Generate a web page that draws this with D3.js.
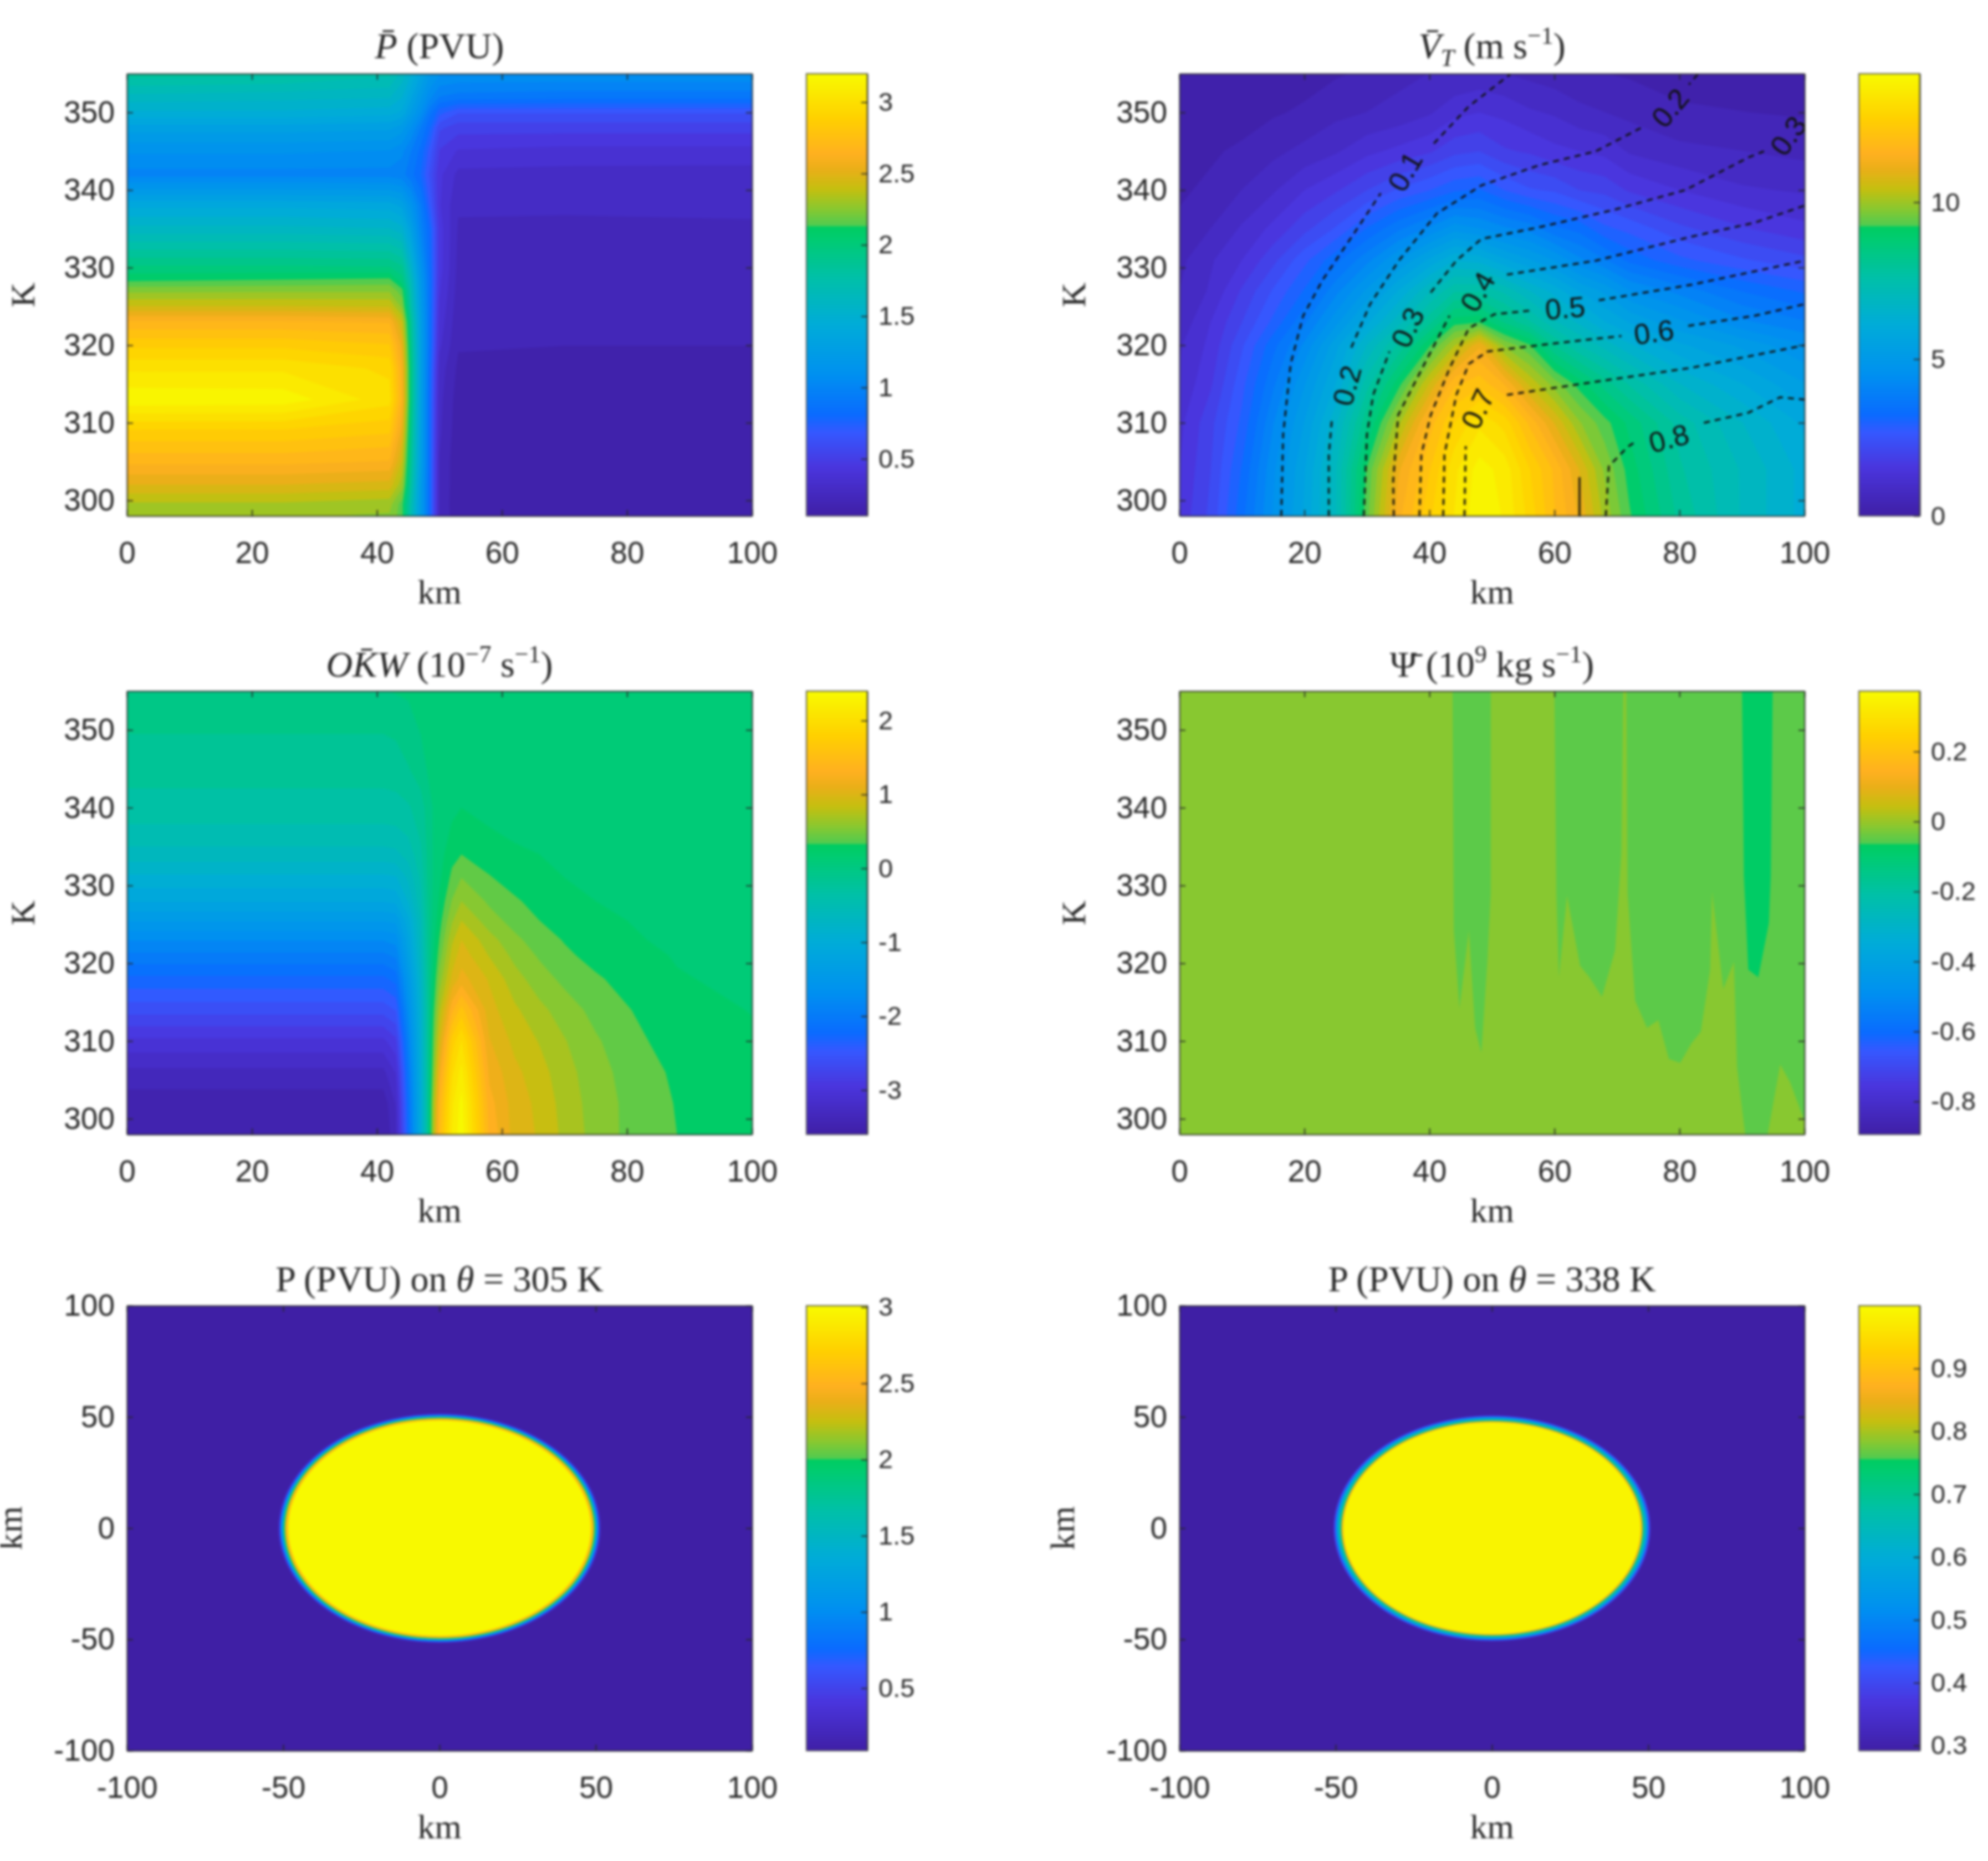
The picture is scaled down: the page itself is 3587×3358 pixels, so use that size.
<!DOCTYPE html>
<html>
<head>
<meta charset="utf-8">
<script src="https://cdn.jsdelivr.net/npm/d3@7"></script>
<style>
  html, body { margin: 0; background: #fff; }
  svg { display: block; filter: blur(2px); }
</style>
</head>
<body>
<div id="canvas"></div>
<script>
// colour table (fraction of bar height -> colour)
var mapStops = [0, 0.11, 0.19, 0.23, 0.32, 0.435, 0.54, 0.63, 0.656, 0.658, 0.695, 0.74, 0.785, 0.82, 0.90, 1];
var mapColors = ['#3f1fa5', '#4a35dd', '#3558ff', '#0a6bff', '#0090f0', '#00acd8', '#00c0a8', '#00cc70', '#00cc60',
  '#50cb50', '#88c830', '#c4bf10', '#eaaf18', '#ffb020', '#ffd000', '#f8fa00'];

// P bar (PVU)
var pvKm = [0, 25, 42, 44, 45.5, 47, 48.5, 50, 53, 70, 100];
var pvTheta = [298, 299.5, 302, 305, 309, 313, 317, 320, 323, 325, 327, 328.3, 330, 335, 338, 342, 345, 348, 350, 352, 355];
var pvValues = [
  [2.28, 2.28, 2.26, 2.15, 1.7, 1.25, 0.8, 0.25, 0.12, 0.11, 0.11],
  [2.33, 2.33, 2.3, 2.15, 1.72, 1.25, 0.8, 0.25, 0.11, 0.11, 0.11],
  [2.5, 2.5, 2.47, 2.3, 1.8, 1.25, 0.8, 0.25, 0.12, 0.11, 0.11],
  [2.68, 2.68, 2.65, 2.42, 1.85, 1.3, 0.8, 0.25, 0.12, 0.11, 0.11],
  [2.88, 2.88, 2.83, 2.55, 1.9, 1.3, 0.8, 0.27, 0.13, 0.12, 0.12],
  [3.18, 3.17, 3.0, 2.65, 1.95, 1.3, 0.8, 0.28, 0.14, 0.13, 0.13],
  [3.03, 3.03, 2.95, 2.62, 1.95, 1.3, 0.82, 0.3, 0.16, 0.15, 0.15],
  [2.87, 2.87, 2.82, 2.55, 1.9, 1.3, 0.85, 0.35, 0.185, 0.178, 0.178],
  [2.67, 2.67, 2.65, 2.42, 1.85, 1.28, 0.85, 0.38, 0.2, 0.2, 0.195],
  [2.43, 2.43, 2.42, 2.25, 1.75, 1.25, 0.85, 0.4, 0.21, 0.205, 0.205],
  [2.25, 2.26, 2.26, 2.15, 1.7, 1.22, 0.85, 0.42, 0.22, 0.215, 0.215],
  [2.11, 2.13, 2.15, 2.0, 1.65, 1.2, 0.85, 0.43, 0.225, 0.22, 0.22],
  [1.98, 1.98, 1.97, 1.9, 1.55, 1.15, 0.83, 0.45, 0.23, 0.225, 0.225],
  [1.6, 1.6, 1.58, 1.52, 1.3, 1.0, 0.8, 0.45, 0.245, 0.245, 0.25],
  [1.4, 1.4, 1.38, 1.32, 1.15, 0.95, 0.7, 0.42, 0.265, 0.262, 0.262],
  [1.0, 1.0, 1.0, 0.98, 0.9, 0.8, 0.62, 0.43, 0.31, 0.305, 0.30],
  [1.12, 1.12, 1.1, 1.05, 0.95, 0.85, 0.68, 0.48, 0.40, 0.38, 0.38],
  [1.3, 1.3, 1.28, 1.22, 1.1, 0.95, 0.8, 0.58, 0.52, 0.52, 0.52],
  [1.48, 1.48, 1.45, 1.4, 1.25, 1.1, 0.9, 0.75, 0.65, 0.65, 0.65],
  [1.62, 1.6, 1.58, 1.5, 1.35, 1.2, 1.05, 0.95, 0.92, 0.9, 0.9],
  [1.85, 1.82, 1.75, 1.62, 1.5, 1.35, 1.2, 1.12, 1.1, 1.1, 1.1]
];

// V_T bar (m/s)
var vtKm = [0, 5, 10, 15, 20, 25, 30, 35, 40, 44, 48, 52, 56, 60, 64, 68, 72, 80, 90, 100];
var vtTheta = [298, 304, 310, 315, 320, 323, 327, 331, 335, 340, 345, 350, 355];
var vtValues = [
  [1.5, 2.2, 3.4, 4.6, 5.7, 7, 9.4, 11.5, 12.6, 13.4, 14, 13.7, 12.9, 12, 11.2, 10.1, 9.2, 8, 7, 6.2],
  [1.4, 2.1, 3.2, 4.5, 5.6, 7, 9.2, 11.2, 12.3, 13.3, 13.9, 13.6, 12.7, 11.9, 10.9, 9.8, 9, 7.8, 7, 6.2],
  [1.3, 2, 2.9, 4.2, 5.3, 6.6, 8.4, 10.1, 11.8, 12.7, 13.3, 12.9, 11.9, 10.9, 9.9, 9.3, 8.7, 7.6, 6.7, 5.9],
  [1.1, 1.7, 2.7, 3.8, 4.9, 6, 7.6, 9, 10.6, 11.9, 12.2, 11.6, 10.5, 9.7, 9, 8.3, 7.7, 6.7, 6, 5.3],
  [1, 1.5, 2.4, 3.4, 4.3, 5.5, 6.7, 7.8, 9.1, 10.2, 11.2, 9.8, 9.2, 8.1, 7.4, 6.9, 6.4, 5.7, 5.2, 4.6],
  [0.8, 1.4, 2.1, 2.9, 3.8, 4.8, 5.9, 6.9, 8, 9, 9.1, 8.4, 7.8, 7.1, 6.6, 6, 5.6, 5, 4.3, 3.9],
  [0.7, 1.1, 1.8, 2.5, 3.2, 4.1, 5, 6, 7, 7.7, 7.7, 7.3, 6.7, 6.2, 5.6, 5.2, 4.6, 4.1, 3.5, 3.1],
  [0.6, 1, 1.4, 2, 2.7, 3.4, 4.1, 4.9, 5.7, 6.3, 6.2, 5.7, 5.3, 4.9, 4.3, 3.9, 3.4, 2.9, 2.5, 2.2],
  [0.4, 0.7, 1.1, 1.5, 2, 2.5, 3.2, 3.8, 4.3, 4.8, 4.6, 4.3, 4.1, 3.6, 3.4, 2.9, 2.7, 2.2, 1.8, 1.5],
  [0.3, 0.4, 0.7, 1, 1.4, 1.7, 2.1, 2.5, 2.8, 3.1, 3.2, 2.8, 2.5, 2.4, 2.1, 2, 1.7, 1.4, 1.1, 1],
  [0.1, 0.3, 0.4, 0.6, 0.8, 1, 1.3, 1.5, 1.7, 2, 2.1, 1.8, 1.7, 1.5, 1.4, 1.3, 1, 0.8, 0.7, 0.6],
  [0.1, 0.1, 0.2, 0.3, 0.4, 0.6, 0.7, 0.8, 1, 1.3, 1.4, 1.3, 1.1, 1, 0.8, 0.7, 0.6, 0.4, 0.35, 0.3],
  [0, 0.1, 0.1, 0.15, 0.2, 0.3, 0.4, 0.6, 0.7, 0.7, 0.8, 0.7, 0.6, 0.5, 0.4, 0.35, 0.3, 0.2, 0.15, 0.1]
];

// dashed contour lines over V_T, each piece is a run of [km, K] points
var vtLines = [
  [[16.3, 298], [16.6, 308.5], [17.8, 317.6], [19.8, 323.8], [22.9, 328.4], [28, 334.5], [32.2, 339.6]],
  [[40.7, 346], [46.3, 350.8], [52.9, 354.9]],
  [[23.9, 298], [23.9, 305.9], [24.4, 310.5]],
  [[27.5, 319.7], [30.5, 325.3], [35.1, 330.9], [41.2, 337], [48.3, 340.6], [57.5, 343.2], [66.6, 345], [73.8, 348]],
  [[82.9, 354.9], [81.5, 353.6]],
  [[29.5, 298], [30, 308.5], [31, 313.6], [33.6, 319.2]],
  [[40.2, 326.8], [44.3, 330.9], [48.3, 333.7], [57.5, 335.2], [69.7, 337.5], [80.9, 340], [91, 344.2], [93.5, 345]],
  [[34.3, 298], [34.2, 302.5], [35, 311], [39.2, 317.6], [43.2, 323.8]],
  [[52.4, 329.1], [66.6, 330.9], [81.9, 334], [92, 335.8], [100, 338]],
  [[38.4, 298], [38.7, 305.9], [40.2, 311], [43.2, 317], [46.3, 322.2], [50.4, 324], [56.5, 324.5]],
  [[67.1, 325.8], [81.9, 327.8], [100, 330.9]],
  [[42.2, 298], [42.4, 305.9], [44.3, 313.6], [46.3, 317.6], [49.3, 319.2], [59.5, 320.2], [70.7, 321.2]],
  [[81.4, 322.5], [92, 323.8], [100, 325.3]],
  [[45.6, 298], [45.8, 307]],
  [[52.4, 313.6], [66.6, 315.3], [81.9, 317.1], [100, 320]],
  [[68.2, 298], [68.7, 304.4], [71.7, 306.9], [73.2, 307.7]],
  [[83.9, 310], [91, 311.3], [96.1, 313.3], [100, 313]]
];
var vtSolid = [[64, 298], [64, 303]];
var vtLabels = ['0.1', '0.2', '0.3', '0.2', '0.3', '0.4', '0.5', '0.6', '0.7', '0.8'];
var vtLabelKm = [36.1, 78.5, 97.4, 26.8, 36.5, 47.7, 61.7, 75.9, 47.7, 78.3];
var vtLabelTheta = [342.4, 350.6, 347, 314.8, 322.3, 326.9, 324.8, 321.7, 311.8, 308];
var vtLabelAngle = [-60, -50, -55, -75, -65, -60, -5, -8, -65, -15];

// OKW bar (1e-7 /s)
var okwKm = [0, 41, 43, 45, 47, 48, 49, 50, 52, 53.5, 58, 62, 66, 70, 75, 80, 88, 100];
var okwTheta = [298, 302, 306, 310, 314, 318, 321, 323, 325.5, 328, 331, 334, 337, 340, 345, 350, 355];
var okwValues = [
  [-3.55, -3.55, -3.3, -2.2, -1.0, -0.3, 0.7, 1.5, 2.15, 2.4, 1.35, 1.03, 0.92, 0.75, 0.58, 0.46, 0.34, 0.26],
  [-3.5, -3.5, -3.25, -2.15, -1.0, -0.3, 0.65, 1.4, 2.1, 2.35, 1.3, 1.02, 0.9, 0.73, 0.57, 0.46, 0.33, 0.25],
  [-3.3, -3.3, -3.1, -2.05, -0.95, -0.3, 0.5, 1.2, 1.95, 2.2, 1.2, 0.98, 0.85, 0.7, 0.55, 0.44, 0.31, 0.23],
  [-3.0, -3.0, -2.85, -1.9, -0.9, -0.3, 0.4, 0.95, 1.75, 2.0, 1.1, 0.9, 0.78, 0.65, 0.51, 0.4, 0.26, 0.21],
  [-2.6, -2.6, -2.5, -1.7, -0.85, -0.3, 0.3, 0.75, 1.35, 1.6, 1.0, 0.82, 0.68, 0.57, 0.44, 0.35, 0.24, 0.185],
  [-2.25, -2.25, -2.15, -1.5, -0.75, -0.25, 0.2, 0.55, 0.98, 1.15, 0.92, 0.7, 0.56, 0.45, 0.36, 0.29, 0.2, 0.16],
  [-1.95, -1.95, -1.88, -1.3, -0.65, -0.22, 0.15, 0.42, 0.85, 1.02, 0.78, 0.6, 0.47, 0.37, 0.29, 0.24, 0.18, 0.14],
  [-1.75, -1.75, -1.7, -1.2, -0.6, -0.2, 0.12, 0.35, 0.76, 0.94, 0.7, 0.53, 0.41, 0.33, 0.26, 0.21, 0.16, 0.12],
  [-1.45, -1.45, -1.42, -1.05, -0.55, -0.18, 0.08, 0.28, 0.62, 0.79, 0.56, 0.43, 0.34, 0.28, 0.22, 0.19, 0.13, 0.1],
  [-1.15, -1.15, -1.12, -0.85, -0.45, -0.15, 0.06, 0.22, 0.5, 0.64, 0.46, 0.36, 0.29, 0.23, 0.19, 0.15, 0.11, 0.08],
  [-0.9, -0.9, -0.88, -0.68, -0.38, -0.12, 0.05, 0.16, 0.38, 0.49, 0.35, 0.28, 0.23, 0.19, 0.15, 0.12, 0.09, 0.07],
  [-0.62, -0.62, -0.6, -0.5, -0.3, -0.1, 0.05, 0.13, 0.29, 0.34, 0.27, 0.22, 0.19, 0.15, 0.12, 0.1, 0.08, 0.06],
  [-0.45, -0.45, -0.44, -0.38, -0.22, -0.08, 0.05, 0.11, 0.21, 0.25, 0.2, 0.16, 0.13, 0.11, 0.09, 0.08, 0.07, 0.06],
  [-0.32, -0.32, -0.31, -0.28, -0.18, -0.06, 0.05, 0.08, 0.16, 0.19, 0.14, 0.11, 0.1, 0.09, 0.08, 0.07, 0.06, 0.06],
  [-0.2, -0.2, -0.19, -0.12, -0.03, 0.045, 0.06, 0.07, 0.08, 0.09, 0.08, 0.08, 0.07, 0.07, 0.07, 0.06, 0.06, 0.06],
  [-0.1, -0.1, -0.08, -0.02, 0.05, 0.06, 0.06, 0.07, 0.07, 0.07, 0.07, 0.07, 0.07, 0.06, 0.06, 0.06, 0.06, 0.06],
  [-0.06, 0.03, 0.05, 0.06, 0.06, 0.06, 0.06, 0.06, 0.06, 0.06, 0.06, 0.06, 0.06, 0.06, 0.06, 0.06, 0.06, 0.06]
];

// Psi bar: flat zones, outlines read in [km, K]
var psiBase = -0.013;
var psiMid = -0.05;
var psiDark = -0.073;
var psiMidZones = [
  [[43.7, 355], [49.8, 355], [49.8, 329], [49.3, 320.7], [48.3, 308.5], [47.3, 311.7], [46.3, 324.2], [44.8, 314.2], [43.9, 324.2]],
  [[60, 355], [60.3, 329], [60.7, 318.2], [62, 328.7], [64.1, 319.7], [65.6, 318.2], [67.6, 315.7], [69.7, 321.7], [70.7, 334.2], [71, 355]],
  [[71.5, 355], [71.7, 329], [72.9, 315.2], [74.8, 311.7], [76.6, 312.7], [78.3, 307.7], [80.1, 307.2], [81.9, 309.7], [83.4, 311.2],
    [84.9, 319.2], [85.2, 329.2], [87, 316.7], [88.7, 320.2], [89.2, 306.7], [90.5, 298], [94.1, 298], [96.1, 307], [97.7, 304.7], [100, 299.7], [100, 355]]
];
var psiDarkZone = [[90, 355], [94.9, 355], [94.6, 331.2], [94.3, 325.2], [92.6, 318.2], [91, 319.2], [90.3, 331.2]];

// P on theta surfaces, radial profile from outside in
var disk305Radius = [51.6, 51.1, 50.7, 50.3, 49.9, 49.5, 49, 48.4];
var disk305Value = [0.25, 0.7, 1.0, 1.4, 1.9, 2.3, 2.6, 3.0];
var disk338Radius = [50.6, 50, 49.4, 48.8, 48.2, 47.6];
var disk338Value = [0.4, 0.52, 0.62, 0.7, 0.85, 0.99];

var kmTicks = [0, 20, 40, 60, 80, 100];
var thetaTicks = [300, 310, 320, 330, 340, 350];
var planTicks = [-100, -50, 0, 50, 100];
var barTicksPv = [0.5, 1, 1.5, 2, 2.5, 3];
var barTicksVt = [0, 5, 10];
var barTicksOkw = [-3, -2, -1, 0, 1, 2];
var barTicksPsi = [-0.8, -0.6, -0.4, -0.2, 0, 0.2];
var barTicks305 = [0.5, 1, 1.5, 2, 2.5, 3];
var barTicks338 = [0.3, 0.4, 0.5, 0.6, 0.7, 0.8, 0.9];

var width = 3587, height = 3358;
var colX = [229, 2128], axW = 1128;
var rowY = [133, 1247, 2356], rowH = [798, 800, 803];
var barGap = 98, barW = 110;
var ink = '#262626';

var cmap = d3.scaleLinear().domain(mapStops).range(mapColors).interpolate(d3.interpolateRgb).clamp(true);

var svg = d3.select('#canvas').append('svg')
  .attr('width', width)
  .attr('height', height)
  .attr('viewBox', [0, 0, width, height]);
svg.append('rect').attr('width', width).attr('height', height).attr('fill', '#fff');

// grid index -> data value (samples sit at i + 0.5, edges clamp)
var indexScale = function(values) {
  var dom = [0], rng = [values[0]];
  values.forEach(function(v, i) { dom.push(i + 0.5); rng.push(v); });
  dom.push(values.length); rng.push(values[values.length - 1]);
  return d3.scaleLinear().domain(dom).range(rng);
};

var drawField = function(g, x, y, kms, thetas, rows, lo, hi, start, step) {
  var ix = indexScale(kms), iy = indexScale(thetas);
  var levels = d3.range(40).map(function(k) { return start + k * step; });
  var flat = d3.merge(rows);
  var bands = d3.contours().size([kms.length, thetas.length]).thresholds(levels)(flat);
  var path = d3.geoPath(d3.geoTransform({
    point: function(px, py) { this.stream.point(x(ix(px)), y(iy(py))); }
  }));
  g.selectAll('path.band').data(bands).enter().append('path')
    .attr('class', 'band')
    .attr('d', path)
    .attr('fill', function(d) { return cmap((d.value + step / 2 - lo) / (hi - lo)); });
};

var writeTitle = function(sel, runs) {
  var shift = 0;
  runs.forEach(function(r) {
    var size = r.sup || r.sub ? 44 : 66;
    var want = r.sup ? -26 : (r.sub ? 14 : 0);
    sel.append('tspan')
      .attr('dy', want - shift)
      .attr('font-size', size)
      .attr('font-style', r.i ? 'italic' : 'normal')
      .text(r.t);
    shift = want;
  });
};

var panel = function(col, row, conf) {
  var left = colX[col], top = rowY[row], h = rowH[row];
  var x = d3.scaleLinear().domain(conf.xDomain).range([0, axW]);
  var y = d3.scaleLinear().domain(conf.yDomain).range([h, 0]);
  var bar = d3.scaleLinear().domain([conf.lo, conf.hi]).range([h, 0]);
  var colorOf = function(v) { return cmap((v - conf.lo) / (conf.hi - conf.lo)); };

  var g = svg.append('g').attr('transform', 'translate(' + left + ',' + top + ')');
  var clipId = 'clip' + col + row;
  g.append('clipPath').attr('id', clipId).append('rect').attr('width', axW).attr('height', h);
  var plot = g.append('g').attr('clip-path', 'url(#' + clipId + ')');
  conf.draw(plot, x, y, colorOf);

  // axes, ticks pointing in on all four sides
  var style = function(a, size) {
    a.selectAll('text').attr('font-family', '"Liberation Sans", Arial, sans-serif')
      .attr('font-size', size).attr('fill', ink);
    a.selectAll('line').attr('stroke', ink).attr('stroke-width', 2);
    a.select('.domain').attr('stroke', ink).attr('stroke-width', 2);
  };
  var fmt = function(d) { return String(d); };
  style(g.append('g').attr('transform', 'translate(0,' + h + ')')
    .call(d3.axisBottom(x).tickValues(conf.xTicks).tickSizeInner(-11).tickSizeOuter(0).tickPadding(46).tickFormat(fmt)), 55);
  style(g.append('g')
    .call(d3.axisLeft(y).tickValues(conf.yTicks).tickSizeInner(-11).tickSizeOuter(0).tickPadding(22).tickFormat(fmt)), 55);
  style(g.append('g')
    .call(d3.axisTop(x).tickValues(conf.xTicks).tickSizeInner(-11).tickSizeOuter(0).tickFormat('')), 55);
  style(g.append('g').attr('transform', 'translate(' + axW + ',0)')
    .call(d3.axisRight(y).tickValues(conf.yTicks).tickSizeInner(-11).tickSizeOuter(0).tickFormat('')), 55);

  // labels
  g.append('text').attr('x', axW / 2).attr('y', h + 158)
    .attr('text-anchor', 'middle').attr('font-family', '"Liberation Serif", serif')
    .attr('font-size', 62).attr('fill', ink).text('km');
  g.append('text')
    .attr('transform', 'translate(' + conf.yLabelX + ',' + (h / 2) + ') rotate(-90)')
    .attr('text-anchor', 'middle').attr('font-family', '"Liberation Serif", serif')
    .attr('font-size', 62).attr('fill', ink).text(conf.yLabel);
  var title = g.append('text').attr('x', axW / 2).attr('y', conf.titleY)
    .attr('text-anchor', 'middle').attr('font-family', '"Liberation Serif", serif').attr('fill', ink);
  writeTitle(title, conf.title);

  // colour bar
  var cb = g.append('g').attr('transform', 'translate(' + (axW + barGap) + ',0)');
  var steps = d3.range(160);
  cb.selectAll('rect').data(steps).enter().append('rect')
    .attr('x', 0)
    .attr('width', barW)
    .attr('y', function(i) { return bar(conf.lo + (i + 1) / 160 * (conf.hi - conf.lo)); })
    .attr('height', h / 160 + 1)
    .attr('fill', function(i) { return cmap((i + 0.5) / 160); });
  cb.append('rect').attr('width', barW).attr('height', h).attr('fill', 'none')
    .attr('stroke', '#555').attr('stroke-width', 2);
  style(cb.append('g').attr('transform', 'translate(' + barW + ',0)')
    .call(d3.axisRight(bar).tickValues(conf.barTicks).tickSizeInner(-11).tickSizeOuter(0).tickPadding(20).tickFormat(fmt)), 47);
};

var polyLine = function(x, y) {
  return d3.line().x(function(d) { return x(d[0]); }).y(function(d) { return y(d[1]); });
};

var drawDisk = function(radii, values) {
  return function(g, x, y, colorOf) {
    g.append('rect').attr('width', axW).attr('height', y.range()[0]).attr('fill', colorOf(d3.min(values) - 1));
    g.selectAll('ellipse').data(radii).enter().append('ellipse')
      .attr('cx', x(0))
      .attr('cy', y(0))
      .attr('rx', function(r) { return x(r) - x(0); })
      .attr('ry', function(r) { return y(0) - y(r); })
      .attr('fill', function(r, i) { return colorOf(values[i]); });
  };
};

panel(0, 0, {
  xDomain: [0, 100], yDomain: [298, 355], xTicks: kmTicks, yTicks: thetaTicks,
  lo: 0.1, hi: 3.2, barTicks: barTicksPv, yLabel: 'K', yLabelX: -167, titleY: -28,
  title: [{t: 'P\u0304', i: 1}, {t: ' (PVU)'}],
  draw: function(g, x, y) { drawField(g, x, y, pvKm, pvTheta, pvValues, 0.1, 3.2, 0.1, 0.0775); }
});

panel(1, 0, {
  xDomain: [0, 100], yDomain: [298, 355], xTicks: kmTicks, yTicks: thetaTicks,
  lo: 0, hi: 14.1, barTicks: barTicksVt, yLabel: 'K', yLabelX: -170, titleY: -28,
  title: [{t: 'V\u0304', i: 1}, {t: 'T', i: 1, sub: 1}, {t: ' (m s'}, {t: '\u22121', sup: 1}, {t: ')'}],
  draw: function(g, x, y) {
    drawField(g, x, y, vtKm, vtTheta, vtValues, 0, 14.1, -0.01, 0.3525);
    var line = polyLine(x, y);
    g.selectAll('path.iso').data(vtLines).enter().append('path')
      .attr('class', 'iso').attr('d', line).attr('fill', 'none')
      .attr('stroke', '#111').attr('stroke-width', 3.5).attr('stroke-dasharray', '11 9');
    g.append('path').attr('d', line(vtSolid)).attr('fill', 'none').attr('stroke', '#111').attr('stroke-width', 3.5);
    g.selectAll('text.iso').data(vtLabels).enter().append('text')
      .attr('class', 'iso')
      .attr('transform', function(d, i) {
        return 'translate(' + x(vtLabelKm[i]) + ',' + y(vtLabelTheta[i]) + ') rotate(' + vtLabelAngle[i] + ')';
      })
      .attr('text-anchor', 'middle').attr('dy', '0.35em')
      .attr('font-family', '"Liberation Sans", Arial, sans-serif').attr('font-size', 52).attr('fill', '#111')
      .text(function(d) { return d; });
  }
});

panel(0, 1, {
  xDomain: [0, 100], yDomain: [298, 355], xTicks: kmTicks, yTicks: thetaTicks,
  lo: -3.6, hi: 2.4, barTicks: barTicksOkw, yLabel: 'K', yLabelX: -167, titleY: -26,
  title: [{t: 'OK\u0304W', i: 1}, {t: ' (10'}, {t: '\u22127', sup: 1}, {t: ' s'}, {t: '\u22121', sup: 1}, {t: ')'}],
  draw: function(g, x, y) { drawField(g, x, y, okwKm, okwTheta, okwValues, -3.6, 2.4, -3.56, 0.15); }
});

panel(1, 1, {
  xDomain: [0, 100], yDomain: [298, 355], xTicks: kmTicks, yTicks: thetaTicks,
  lo: -0.894, hi: 0.373, barTicks: barTicksPsi, yLabel: 'K', yLabelX: -170, titleY: -26,
  title: [{t: '\u03A8\u0304'}, {t: ' (10'}, {t: '9', sup: 1}, {t: ' kg s'}, {t: '\u22121', sup: 1}, {t: ')'}],
  draw: function(g, x, y, colorOf) {
    var line = polyLine(x, y);
    g.append('rect').attr('width', axW).attr('height', y.range()[0]).attr('fill', colorOf(psiBase));
    g.selectAll('path.mid').data(psiMidZones).enter().append('path')
      .attr('class', 'mid')
      .attr('d', function(d) { return line(d) + 'Z'; })
      .attr('fill', colorOf(psiMid));
    g.append('path').attr('d', line(psiDarkZone) + 'Z').attr('fill', colorOf(psiDark));
  }
});

panel(0, 2, {
  xDomain: [-100, 100], yDomain: [-100, 100], xTicks: planTicks, yTicks: planTicks,
  lo: 0.09, hi: 3.01, barTicks: barTicks305, yLabel: 'km', yLabelX: -190, titleY: -26,
  title: [{t: 'P (PVU) on '}, {t: '\u03B8', i: 1}, {t: ' = 305 K'}],
  draw: drawDisk(disk305Radius, disk305Value)
});

panel(1, 2, {
  xDomain: [-100, 100], yDomain: [-100, 100], xTicks: planTicks, yTicks: planTicks,
  lo: 0.292, hi: 1.0, barTicks: barTicks338, yLabel: 'km', yLabelX: -190, titleY: -26,
  title: [{t: 'P (PVU) on '}, {t: '\u03B8', i: 1}, {t: ' = 338 K'}],
  draw: drawDisk(disk338Radius, disk338Value)
});
</script>
</body>
</html>
